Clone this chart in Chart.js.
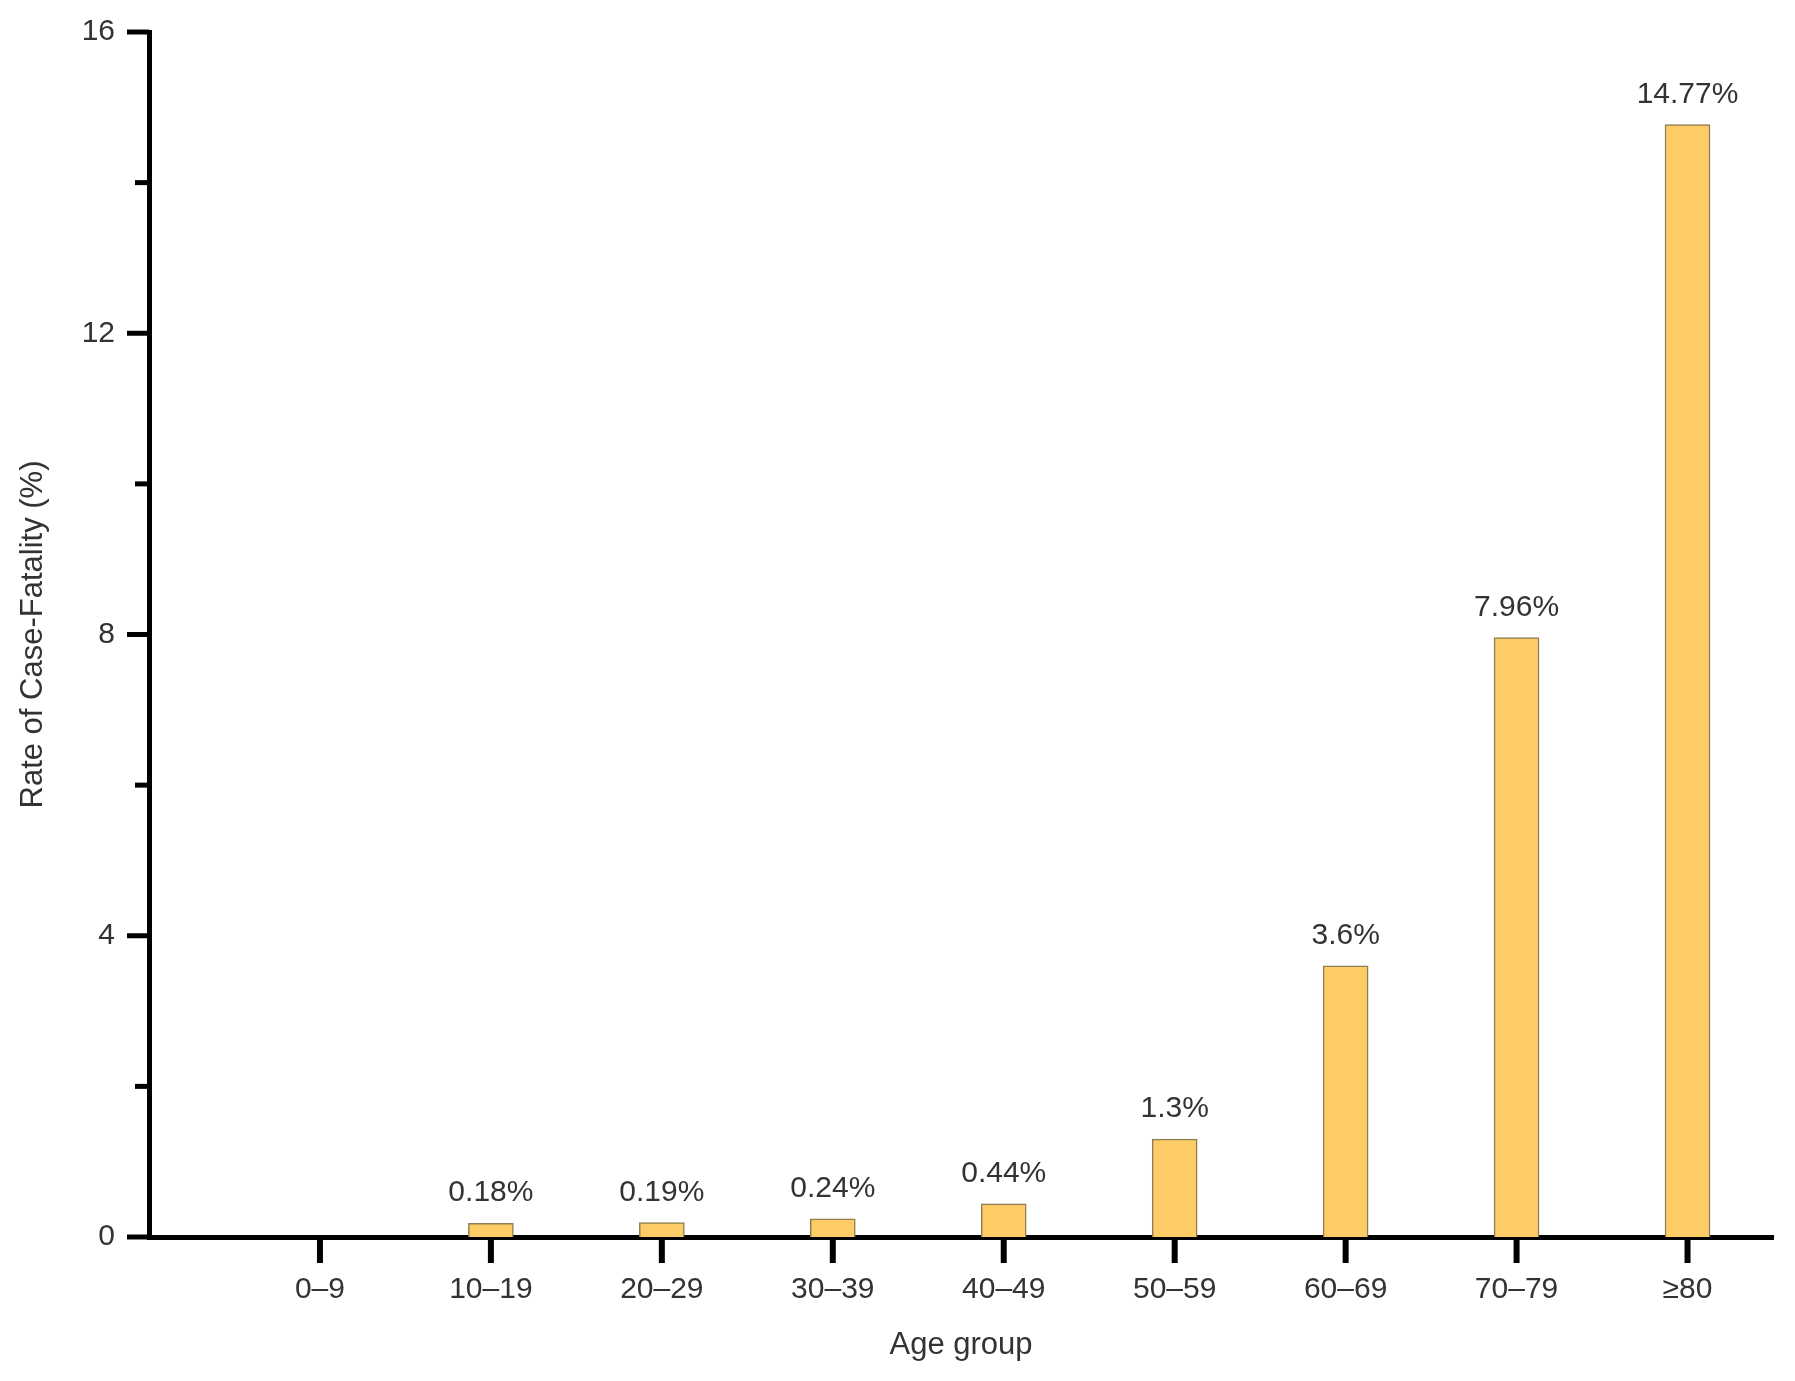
<!DOCTYPE html>
<html>
<head>
<meta charset="utf-8">
<script src="https://cdn.jsdelivr.net/npm/chart.js@4.4.1/dist/chart.umd.min.js"></script>
<style>
  body { margin: 0; background: #fff; }
  canvas { display: block; }
</style>
</head>
<body>
<canvas id="cfrChart" width="1795" height="1381"></canvas>
<script>
// Case-fatality rate by age group
const ageGroups = ['0–9', '10–19', '20–29', '30–39', '40–49', '50–59', '60–69', '70–79', '≥80'];
const fatalityRates = [0, 0.18, 0.19, 0.24, 0.44, 1.3, 3.6, 7.96, 14.77];
const yTicks = [0, 4, 8, 12, 16];

const FONT = '"Liberation Sans", Arial, Helvetica, sans-serif';
const TEXT = '#333333';

// tick marks (long for labelled y ticks, short for the in-between ones)
const tickMarks = {
    id: 'tickMarks',
    afterDraw(chart) {
        const ctx = chart.ctx;
        const x = chart.scales.x, y = chart.scales.y;
        const area = chart.chartArea;
        ctx.save();
        ctx.strokeStyle = '#000';
        ctx.lineCap = 'butt';
        ctx.lineWidth = 5;
        y.ticks.forEach(t => {
            const py = y.getPixelForValue(t.value);
            const len = yTicks.includes(t.value) ? 22 : 14;
            ctx.beginPath();
            ctx.moveTo(area.left - len, py);
            ctx.lineTo(area.left, py);
            ctx.stroke();
        });
        ctx.lineWidth = 6;
        x.ticks.forEach(t => {
            const px = x.getPixelForValue(t.value);
            ctx.beginPath();
            ctx.moveTo(px, area.bottom);
            ctx.lineTo(px, area.bottom + 26);
            ctx.stroke();
        });
        ctx.restore();
    }
};

// percentage labels above bars
const barLabels = {
    id: 'barLabels',
    afterDatasetsDraw(chart) {
        const ctx = chart.ctx;
        const meta = chart.getDatasetMeta(0);
        ctx.save();
        ctx.font = '30px ' + FONT;
        ctx.fillStyle = TEXT;
        ctx.textAlign = 'center';
        ctx.textBaseline = 'alphabetic';
        meta.data.forEach((bar, i) => {
            if (!fatalityRates[i]) return;
            ctx.fillText(fatalityRates[i] + '%', bar.x, bar.y - 22);
        });
        ctx.restore();
    }
};

new Chart(document.getElementById('cfrChart'), {
    type: 'bar',
    data: {
        datasets: [{
            data: fatalityRates.map((v, i) => ({ x: i, y: v })),
            backgroundColor: '#FDCC66',
            borderColor: '#8f7d52',
            borderWidth: 1.5,
            barThickness: 45
        }]
    },
    options: {
        responsive: false,
        animation: false,
        layout: { padding: { top: 32, right: 22, left: 0, bottom: 0 } },
        plugins: { legend: { display: false }, tooltip: { enabled: false } },
        scales: {
            x: {
                type: 'linear',
                min: -1,
                max: 8.5,
                offset: false,
                z: 1,
                grid: { display: false, drawTicks: false },
                border: { display: true, color: '#000', width: 5 },
                afterBuildTicks: s => { s.ticks = ageGroups.map((_, i) => ({ value: i })); },
                afterFit: s => { s.height = 144; s.paddingLeft = 0; s.paddingRight = 0; },
                ticks: {
                    autoSkip: false,
                    maxRotation: 0,
                    padding: 35,
                    color: TEXT,
                    font: { family: FONT, size: 30 },
                    callback: v => ageGroups[v]
                },
                title: {
                    display: true,
                    text: 'Age group',
                    color: TEXT,
                    font: { family: FONT, size: 31 },
                    padding: { top: 0, bottom: 17 }
                }
            },
            y: {
                min: 0,
                max: 16,
                z: 1,
                grid: { display: false, drawTicks: false },
                border: { display: true, color: '#000', width: 5 },
                afterFit: s => { s.width = 149; s.paddingTop = 0; s.paddingBottom = 0; },
                ticks: {
                    stepSize: 2,
                    padding: 34,
                    color: TEXT,
                    font: { family: FONT, size: 30 },
                    callback: v => yTicks.includes(v) ? v : ''
                },
                title: {
                    display: true,
                    text: 'Rate of Case-Fatality (%)',
                    color: TEXT,
                    font: { family: FONT, size: 31 },
                    padding: { top: 15, bottom: 0 }
                }
            }
        }
    },
    plugins: [tickMarks, barLabels]
});
</script>
</body>
</html>
